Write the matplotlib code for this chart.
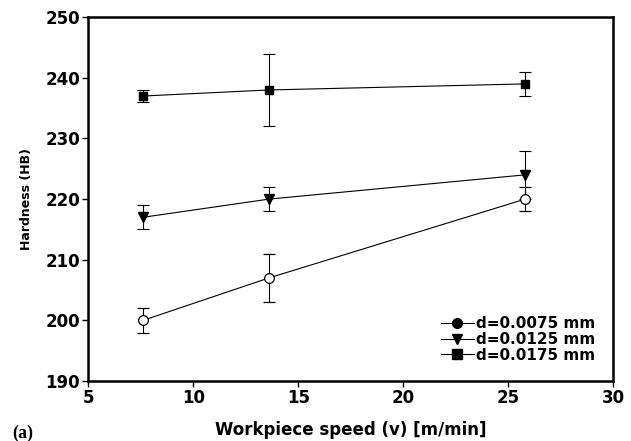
import matplotlib
matplotlib.use("Agg")
import matplotlib.pyplot as plt
from matplotlib.lines import Line2D

plt.rcParams['font.family'] = ['DejaVu Sans']
plt.rcParams['font.weight'] = 'bold'

speed = [7.6, 13.6, 25.8]
labels = ['d=0.0075 mm', 'd=0.0125 mm', 'd=0.0175 mm']
hb_0075 = [200, 207, 220]
err_0075 = [2, 4, 2]
hb_0125 = [217, 220, 224]
err_0125 = [2, 2, 4]
hb_0175 = [237, 238, 239]
err_0175 = [1, 6, 2]

fig = plt.figure(figsize=(6.31, 4.41), dpi=100)
ax = fig.add_axes([0.140, 0.136, 0.832, 0.825])

ax.errorbar(speed, hb_0075, yerr=err_0075, color='black', lw=0.8, elinewidth=0.8,
            capsize=4, capthick=0.8, marker='o', ms=7, mfc='white', mec='black', mew=0.9)
ax.errorbar(speed, hb_0125, yerr=err_0125, color='black', lw=0.8, elinewidth=0.8,
            capsize=4, capthick=0.8, marker='v', ms=7.5, mfc='black', mec='black')
ax.errorbar(speed, hb_0175, yerr=err_0175, color='black', lw=0.8, elinewidth=0.8,
            capsize=4, capthick=0.8, marker='s', ms=6, mfc='black', mec='black')

ax.set_xlim(5, 30)
ax.set_ylim(190, 250)
ax.set_xticks([5, 10, 15, 20, 25, 30])
ax.set_yticks([190, 200, 210, 220, 230, 240, 250])
ax.tick_params(direction='out', length=4, width=1, labelsize=12, pad=2)
for sp in ax.spines.values():
    sp.set_linewidth(1.8)

ax.set_xlabel('Workpiece speed (v) [m/min]', fontsize=12, fontweight='bold', labelpad=10)
ax.set_ylabel('Hardness (HB)', fontsize=9, fontweight='bold', labelpad=9)

handles = [Line2D([], [], color='black', lw=0.8, marker=m, ms=7, mfc='black')
           for m in ['o', 'v', 's']]
ax.legend(handles, labels, loc='lower right', frameon=False,
          handlelength=2.2, handletextpad=0.1, labelspacing=0.05,
          borderaxespad=0.8, prop={'weight': 'bold', 'size': 11})

fig.text(0.019, 0.008, '(a)', fontsize=13, family='Liberation Serif', fontweight='bold')

fig.savefig('out.png', dpi=100)
